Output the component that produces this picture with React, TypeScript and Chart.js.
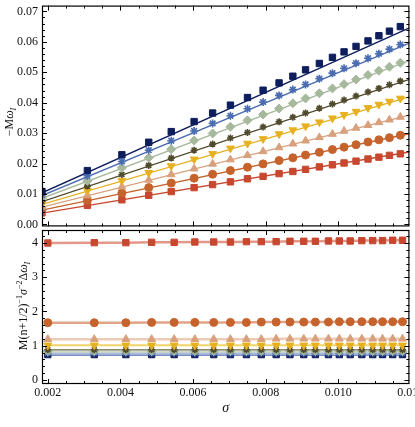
import React, { useEffect, useRef } from 'react';
import { Chart, registerables } from 'chart.js';

Chart.register(...registerables);

// ---------- data ----------
const sigmaTop = [0.00184, 0.00309, 0.00404, 0.00478, 0.0054, 0.00603, 0.00654, 0.00703, 0.0075, 0.00793, 0.00837, 0.00875, 0.0091, 0.00948, 0.00984, 0.01016, 0.01049, 0.01082, 0.01112, 0.01141, 0.01171];

const navyTop = [0.0108, 0.0177, 0.0229, 0.027, 0.0305, 0.0338, 0.0366, 0.0392, 0.0417, 0.0441, 0.0465, 0.0487, 0.0508, 0.0529, 0.0549, 0.0567, 0.0585, 0.0603, 0.062, 0.0635, 0.065];
const blueTop = [0.0097, 0.016, 0.0207, 0.0244, 0.0275, 0.0307, 0.0332, 0.0357, 0.038, 0.0402, 0.0424, 0.0443, 0.046, 0.0479, 0.0497, 0.0513, 0.053, 0.0546, 0.0561, 0.0576, 0.0591];
const sageTop = [0.0087, 0.0143, 0.0186, 0.0219, 0.0247, 0.0276, 0.0299, 0.0321, 0.0342, 0.0361, 0.0381, 0.0398, 0.0414, 0.0431, 0.0447, 0.0461, 0.0476, 0.0491, 0.0505, 0.0518, 0.0531];
const oliveTop = [0.0076, 0.0126, 0.0164, 0.0194, 0.0218, 0.0244, 0.0264, 0.0284, 0.0302, 0.032, 0.0337, 0.0352, 0.0366, 0.0382, 0.0396, 0.0409, 0.0422, 0.0435, 0.0447, 0.0459, 0.0471];
const goldTop = [0.0067, 0.0111, 0.0144, 0.017, 0.0192, 0.0214, 0.0232, 0.025, 0.0266, 0.0281, 0.0297, 0.031, 0.0323, 0.0336, 0.0349, 0.036, 0.0371, 0.0383, 0.0394, 0.0404, 0.0414];
const peachTop = [0.0058, 0.0095, 0.0124, 0.0146, 0.0164, 0.0183, 0.0199, 0.0213, 0.0227, 0.024, 0.0253, 0.0265, 0.0275, 0.0286, 0.0297, 0.0307, 0.0317, 0.0326, 0.0335, 0.0344, 0.0353];
const orangeTop = [0.0048, 0.0079, 0.0103, 0.0121, 0.0136, 0.0152, 0.0165, 0.0177, 0.0188, 0.0199, 0.021, 0.0219, 0.0228, 0.0237, 0.0246, 0.0254, 0.0262, 0.0271, 0.0278, 0.0285, 0.0293];
const redTop = [0.0038, 0.0063, 0.0081, 0.0096, 0.0108, 0.0121, 0.0131, 0.014, 0.015, 0.0158, 0.0167, 0.0174, 0.0181, 0.0189, 0.0196, 0.0202, 0.0208, 0.0215, 0.0221, 0.0227, 0.0232];

const fitSigma = [0.00184, 0.01196];
const navyFit = [0.0104, 0.0646];
const blueFit = [0.0095, 0.0596];
const sageFit = [0.0086, 0.0538];
const oliveFit = [0.0075, 0.0477];
const goldFit = [0.0066, 0.0419];
const peachFit = [0.0057, 0.0359];
const orangeFit = [0.0047, 0.0298];
const redFit = [0.0037, 0.0238];

const sigmaBottom = [0.002, 0.00328, 0.00415, 0.00486, 0.00548, 0.00605, 0.00657, 0.00703, 0.00747, 0.00788, 0.00829, 0.00867, 0.00905, 0.00937, 0.00973, 0.01003, 0.01033, 0.01065, 0.01095, 0.01122, 0.0115, 0.01177];

const redRatio = [4.0, 4.01, 4.01, 4.02, 4.02, 4.03, 4.03, 4.03, 4.04, 4.04, 4.04, 4.05, 4.05, 4.05, 4.06, 4.06, 4.06, 4.07, 4.07, 4.07, 4.08, 4.08];
const orangeRatio = [1.67, 1.67, 1.67, 1.68, 1.68, 1.68, 1.68, 1.68, 1.68, 1.69, 1.69, 1.69, 1.69, 1.69, 1.69, 1.7, 1.7, 1.7, 1.7, 1.7, 1.7, 1.7];
const peachRatio = [1.19, 1.19, 1.19, 1.19, 1.19, 1.19, 1.19, 1.19, 1.19, 1.19, 1.2, 1.2, 1.2, 1.2, 1.2, 1.2, 1.2, 1.2, 1.2, 1.2, 1.2, 1.2];
const goldRatio = [1.01, 1.01, 1.01, 1.01, 1.01, 1.01, 1.01, 1.01, 1.01, 1.01, 1.01, 1.01, 1.01, 1.01, 1.01, 1.01, 1.01, 1.01, 1.01, 1.01, 1.01, 1.01];
const oliveRatio = [0.88, 0.88, 0.88, 0.88, 0.88, 0.88, 0.88, 0.88, 0.88, 0.88, 0.88, 0.88, 0.88, 0.88, 0.88, 0.88, 0.88, 0.88, 0.88, 0.88, 0.88, 0.88];
const sageRatio = [0.84, 0.84, 0.84, 0.84, 0.84, 0.84, 0.84, 0.84, 0.84, 0.84, 0.84, 0.84, 0.84, 0.84, 0.84, 0.84, 0.84, 0.84, 0.84, 0.84, 0.84, 0.84];
const blueRatio = [0.79, 0.79, 0.79, 0.79, 0.79, 0.79, 0.79, 0.79, 0.79, 0.79, 0.79, 0.79, 0.79, 0.79, 0.79, 0.79, 0.79, 0.79, 0.79, 0.79, 0.79, 0.79];
const navyRatio = [0.74, 0.74, 0.74, 0.74, 0.74, 0.74, 0.74, 0.74, 0.74, 0.74, 0.74, 0.74, 0.74, 0.74, 0.74, 0.74, 0.74, 0.74, 0.74, 0.74, 0.74, 0.74];

const xTickValues = [0.002, 0.004, 0.006, 0.008, 0.01, 0.012];
const xTickLabels = ['0.002', '0.004', '0.006', '0.008', '0.010', '0.012'];
const topYTickValues = [0, 0.01, 0.02, 0.03, 0.04, 0.05, 0.06, 0.07];
const topYTickLabels = ['0.00', '0.01', '0.02', '0.03', '0.04', '0.05', '0.06', '0.07'];
const botYTickValues = [0, 1, 2, 3, 4];
const botYTickLabels = ['0', '1', '2', '3', '4'];

// ---------- styles ----------
const FONT = '"Liberation Serif", "DejaVu Serif", serif';
const W = 415;
const H = 427;

type Style = { color: string; light: string; shape: string; radius: number; rot?: number; botWidth: number };
const styles: Style[] = [
  { color: '#0e1d5c', light: '#7d8cc0', shape: 'rect', radius: 4.5, botWidth: 3 },
  { color: '#4a6cb0', light: '#a9bbdc', shape: 'star', radius: 4, botWidth: 4 },
  { color: '#a7b99c', light: '#cfd9c8', shape: 'rectRot', radius: 4.5, botWidth: 3 },
  { color: '#4f4a2c', light: '#8f8c76', shape: 'star', radius: 3.5, botWidth: 1.5 },
  { color: '#e6b020', light: '#f0d36a', shape: 'triangle', radius: 4.5, rot: 180, botWidth: 2 },
  { color: '#d8a07c', light: '#edcbb5', shape: 'triangle', radius: 4.5, botWidth: 2.5 },
  { color: '#c6632c', light: '#e2a488', shape: 'circle', radius: 4, botWidth: 2.5 },
  { color: '#c8472f', light: '#e2998a', shape: 'rect', radius: 4.5, botWidth: 2.5 },
];

const topSeries = [navyTop, blueTop, sageTop, oliveTop, goldTop, peachTop, orangeTop, redTop];
const fitSeries = [navyFit, blueFit, sageFit, oliveFit, goldFit, peachFit, orangeFit, redFit];
const botSeries = [navyRatio, blueRatio, sageRatio, oliveRatio, goldRatio, peachRatio, orangeRatio, redRatio];

const X_MIN = 0.00184;
const X_MAX = 0.01196;

type Part = { t: string; size: number; italic?: boolean; dy?: number };

function drawRotated(ctx: CanvasRenderingContext2D, parts: Part[], cx: number, cy: number) {
  ctx.save();
  ctx.translate(cx, cy);
  ctx.rotate(-Math.PI / 2);
  ctx.fillStyle = '#111';
  ctx.textBaseline = 'alphabetic';
  ctx.textAlign = 'left';
  let total = 0;
  const widths: number[] = [];
  for (const p of parts) {
    ctx.font = `${p.italic ? 'italic ' : ''}${p.size}px ${FONT}`;
    const w = ctx.measureText(p.t).width;
    widths.push(w);
    total += w;
  }
  let x = -total / 2;
  parts.forEach((p, i) => {
    ctx.font = `${p.italic ? 'italic ' : ''}${p.size}px ${FONT}`;
    ctx.fillText(p.t, x, 4 + (p.dy || 0));
    x += widths[i];
  });
  ctx.restore();
}

function framePlugin(yStep: number, yMajorEvery: number, yCount: number, title: { parts: Part[]; cx: number; cy: number }) {
  return {
    id: 'frameTicks',
    afterDraw(chart: any) {
      const { ctx, chartArea: a, scales } = chart;
      const xs = scales.x;
      const ys = scales.y;
      ctx.save();
      ctx.strokeStyle = '#000';
      ctx.lineWidth = 1.2;
      ctx.strokeRect(a.left + 0.5, a.top + 0.5, a.right - a.left - 1, a.bottom - a.top - 1);
      ctx.lineWidth = 1;
      for (let i = 0; i <= 24; i++) {
        const v = 0.002 + i * 0.0005;
        const px = Math.round(xs.getPixelForValue(v)) + 0.5;
        if (px < a.left || px > a.right) continue;
        const len = i % 4 === 0 ? 5 : 3;
        ctx.beginPath();
        ctx.moveTo(px, a.bottom);
        ctx.lineTo(px, a.bottom - len);
        ctx.moveTo(px, a.top);
        ctx.lineTo(px, a.top + len);
        ctx.stroke();
      }
      for (let i = 0; i <= yCount; i++) {
        const v = i * yStep;
        const py = Math.round(ys.getPixelForValue(v)) + 0.5;
        if (py < a.top || py > a.bottom) continue;
        const len = i % yMajorEvery === 0 ? 5 : 3;
        ctx.beginPath();
        ctx.moveTo(a.left, py);
        ctx.lineTo(a.left + len, py);
        ctx.moveTo(a.right, py);
        ctx.lineTo(a.right - len, py);
        ctx.stroke();
      }
      ctx.restore();
      drawRotated(ctx, title.parts, title.cx, title.cy);
    },
  };
}

const tickFont = { family: FONT, size: 12 };

function topConfig(): any {
  const datasets: any[] = [];
  styles.forEach((s, i) => {
    datasets.push({
      data: fitSigma.map((x, j) => ({ x, y: fitSeries[i][j] })),
      showLine: true,
      borderColor: s.color,
      borderWidth: 1.3,
      pointRadius: 0,
      clip: 0,
      order: 2,
    });
    datasets.push({
      data: sigmaTop.map((x, j) => ({ x, y: topSeries[i][j] })),
      showLine: false,
      pointStyle: s.shape,
      pointRadius: s.radius,
      pointRotation: s.rot || 0,
      pointBackgroundColor: s.color,
      pointBorderColor: s.color,
      pointBorderWidth: s.shape === 'star' ? 1.6 : 1,
      clip: 0,
      order: 1,
    });
  });
  return {
    type: 'scatter',
    data: { datasets },
    options: {
      animation: false,
      responsive: false,
      devicePixelRatio: 1,
      layout: { padding: { top: 1, right: 1, bottom: 3, left: 0 } },
      plugins: { legend: { display: false }, tooltip: { enabled: false } },
      scales: {
        x: { type: 'linear', min: X_MIN, max: X_MAX, display: false },
        y: {
          type: 'linear',
          min: -0.00064,
          max: 0.0719,
          grid: { display: false, drawTicks: false },
          border: { display: false },
          afterBuildTicks: (s: any) => { s.ticks = topYTickValues.map((v) => ({ value: v })); },
          afterFit: (s: any) => { s.width = 42; s.paddingTop = 0; s.paddingBottom = 0; },
          ticks: {
            font: tickFont,
            color: '#111',
            padding: 4,
            autoSkip: false,
            callback: (_v: any, i: number) => topYTickLabels[i],
          },
        },
      },
    },
    plugins: [
      framePlugin(0.002, 5, 36, {
        parts: [
          { t: '\u2212M', size: 12 },
          { t: '\u03c9', size: 12, italic: true },
          { t: 'I', size: 8, italic: true, dy: 3 },
        ],
        cx: 9,
        cy: 122,
      }),
    ],
  };
}

function bottomConfig(): any {
  const datasets: any[] = [];
  styles.forEach((s, i) => {
    datasets.push({
      data: sigmaBottom.map((x, j) => ({ x, y: botSeries[i][j] })),
      showLine: true,
      borderColor: s.light,
      borderWidth: s.botWidth,
      pointStyle: s.shape,
      pointRadius: s.radius,
      pointRotation: s.rot || 0,
      pointBackgroundColor: s.color,
      pointBorderColor: s.color,
      pointBorderWidth: s.shape === 'star' ? 1.6 : 1,
      clip: 0,
      order: 8 - i,
    });
  });
  return {
    type: 'scatter',
    data: { datasets },
    options: {
      animation: false,
      responsive: false,
      devicePixelRatio: 1,
      layout: { padding: { top: 230, right: 1, bottom: 0, left: 0 } },
      plugins: { legend: { display: false }, tooltip: { enabled: false } },
      scales: {
        x: {
          type: 'linear',
          min: X_MIN,
          max: X_MAX,
          grid: { display: false, drawTicks: false },
          border: { display: false },
          afterBuildTicks: (s: any) => { s.ticks = xTickValues.map((v) => ({ value: v })); },
          afterFit: (s: any) => { s.height = 43; s.paddingLeft = 0; s.paddingRight = 0; },
          ticks: {
            font: tickFont,
            color: '#111',
            padding: 2,
            autoSkip: false,
            maxRotation: 0,
            minRotation: 0,
            callback: (_v: any, i: number) => xTickLabels[i],
          },
          title: {
            display: true,
            text: '\u03c3',
            color: '#111',
            font: { family: FONT, size: 14, style: 'italic' },
            padding: { top: 0, bottom: 10 },
          },
        },
        y: {
          type: 'linear',
          min: -0.12,
          max: 4.38,
          grid: { display: false, drawTicks: false },
          border: { display: false },
          afterBuildTicks: (s: any) => { s.ticks = botYTickValues.map((v) => ({ value: v })); },
          afterFit: (s: any) => { s.width = 42; s.paddingTop = 0; s.paddingBottom = 0; },
          ticks: {
            font: tickFont,
            color: '#111',
            padding: 4,
            autoSkip: false,
            callback: (_v: any, i: number) => botYTickLabels[i],
          },
        },
      },
    },
    plugins: [
      framePlugin(0.2, 5, 21, {
        parts: [
          { t: 'M(n+1/2)', size: 12 },
          { t: '\u22121', size: 8, dy: -5 },
          { t: '\u03c3', size: 12, italic: true },
          { t: '\u22122', size: 8, dy: -5 },
          { t: '\u0394', size: 12 },
          { t: '\u03c9', size: 12, italic: true },
          { t: 'I', size: 8, italic: true, dy: 3 },
        ],
        cx: 23,
        cy: 306,
      }),
    ],
  };
}

export default function App() {
  const topRef = useRef<HTMLCanvasElement>(null);
  const botRef = useRef<HTMLCanvasElement>(null);
  useEffect(() => {
    const top = new Chart(topRef.current as HTMLCanvasElement, topConfig());
    const bot = new Chart(botRef.current as HTMLCanvasElement, bottomConfig());
    return () => {
      top.destroy();
      bot.destroy();
    };
  }, []);
  return (
    <div style={{ position: 'fixed', left: 0, top: 0, width: W, height: H, background: '#fff' }}>
      <canvas ref={botRef} width={W} height={H} style={{ position: 'absolute', left: 0, top: 0, width: W, height: H }} />
      <canvas ref={topRef} width={W} height={232} style={{ position: 'absolute', left: 0, top: 0, width: W, height: 232 }} />
    </div>
  );
}
